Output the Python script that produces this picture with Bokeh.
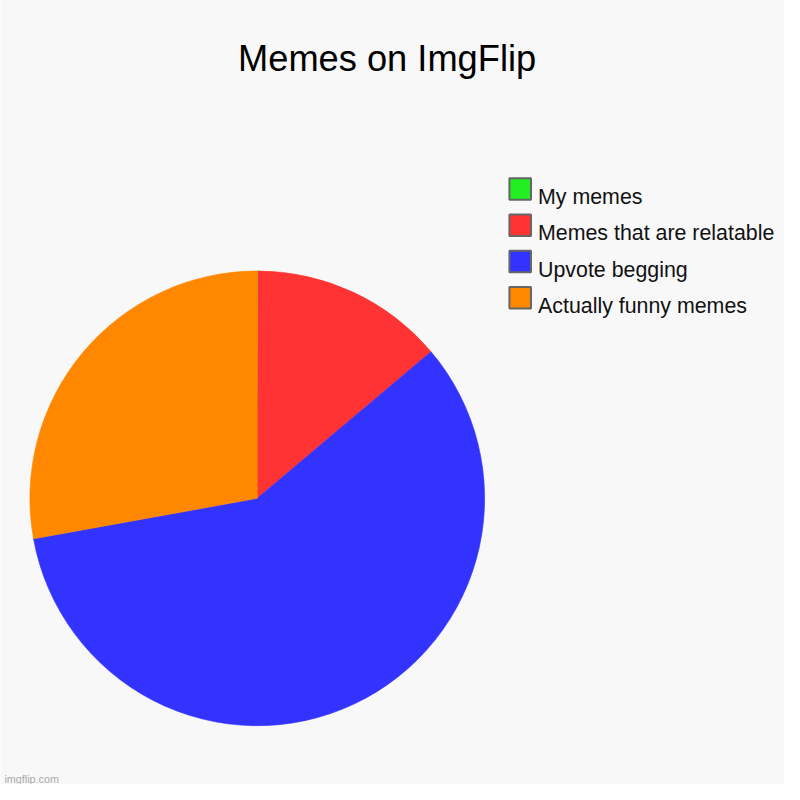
import numpy as np
from bokeh.plotting import figure
from bokeh.models import ColumnDataSource, Range1d
from bokeh.core.properties import value
from bokeh.embed import file_html
from bokeh.resources import INLINE

# ---- data ----
title_text = "Memes on ImgFlip"
categories = ["My memes", "Memes that are relatable", "Upvote begging", "Actually funny memes"]
values = [0.05, 13.8, 58.3, 27.85]
colors = ["#22ee22", "#ff3333", "#3333ff", "#ff8800"]
watermark = "imgflip.com"

W = H = 784
S = W / 800.0  # pixel scale of the 800-unit canvas
FONT = "Liberation Sans"

def fs(px):
    return f"{px * S:.2f}px"

p = figure(width=W, height=H, output_backend="svg", toolbar_location=None,
           x_range=Range1d(0, 800), y_range=Range1d(0, 800),
           min_border=0, min_border_left=0, min_border_right=0,
           min_border_top=0, min_border_bottom=0)
p.axis.visible = False
p.grid.visible = False
p.outline_line_color = None
p.background_fill_color = "#f8f8f8"
p.border_fill_color = "#f8f8f8"

# pie wedges (clockwise from top)
vals = np.array(values, dtype=float)
frac = vals / vals.sum()
cum = np.concatenate([[0.0], np.cumsum(frac)])
start = np.pi / 2 - 2 * np.pi * cum[:-1]
end = np.pi / 2 - 2 * np.pi * cum[1:]
src = ColumnDataSource(dict(start=start, end=end, color=colors, cat=categories))
p.wedge(x=262, y=800 - 508, radius=232, start_angle="start", end_angle="end",
        direction="clock", fill_color="color", line_color="color", line_width=0.6,
        source=src)

# legend (manual)
n = len(categories)
idx = np.arange(n)
leg = ColumnDataSource(dict(
    bx=np.full(n, 530.3), by=800 - (192.3 + 37.0 * idx),
    tx=np.full(n, 548.5), ty=800 - (200.7 + 37.0 * idx),
    color=colors, label=categories))
p.rect(x="bx", y="by", width=22, height=22, fill_color="color",
       line_color="#666666", line_width=2, source=leg)
p.text(x="tx", y="ty", text="label", text_font=value(FONT), text_font_size=fs(21.8),
       text_color="#111111", text_baseline="alphabetic", text_align="left", source=leg)

# title
p.text(x=[394.5], y=[800 - 59], text=[title_text], text_font=value(FONT),
       text_font_size=fs(37), text_color="#000000", text_align="center",
       text_baseline="alphabetic")

# watermark
p.text(x=[4], y=[800 - 794.5], text=[watermark], text_font=value(FONT),
       text_font_size=fs(11), text_color="#aaaaaa", text_align="left",
       text_baseline="alphabetic")

open("out.html", "w").write(file_html(p, INLINE))
